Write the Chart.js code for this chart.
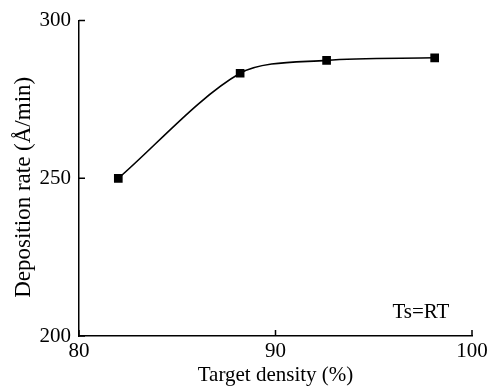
<!DOCTYPE html>
<html>
<head>
<meta charset="utf-8">
<script src="https://cdn.jsdelivr.net/npm/chart.js@4/dist/chart.umd.min.js"></script>
<style>
html,body{margin:0;padding:0;background:#fff;}
#wrap{width:492px;height:388px;}
</style>
</head>
<body>
<div id="wrap"><canvas id="c" width="492" height="388"></canvas></div>
<script>
const targetDensity = [82.0, 88.2, 92.6, 98.1];
const depositionRate = [250.0, 283.3, 287.4, 288.2];
const xTicks = [80, 90, 100];
const yTicks = [200, 250, 300];
const xTitle = 'Target density (%)';
const yTitle = 'Deposition rate (Å/min)';
const noteText = 'Ts=RT';
const notePos = {x: 97.4, y: 207.3};

const FONT = '"Liberation Serif", "Times New Roman", serif';

const extras = {
  id: 'extras',
  afterDraw(chart) {
    const ctx = chart.ctx;
    const xs = chart.scales.x, ys = chart.scales.y;
    const len = 6;
    ctx.save();
    ctx.strokeStyle = '#000';
    ctx.lineWidth = 1.5;
    ctx.beginPath();
    xTicks.forEach(v => {
      const px = xs.getPixelForValue(v);
      ctx.moveTo(px, ys.bottom);
      ctx.lineTo(px, ys.bottom - len);
    });
    yTicks.forEach(v => {
      const py = ys.getPixelForValue(v);
      ctx.moveTo(xs.left, py);
      ctx.lineTo(xs.left + len, py);
    });
    ctx.stroke();
    ctx.fillStyle = '#000';
    ctx.font = '21px ' + FONT;
    ctx.textAlign = 'center';
    ctx.textBaseline = 'middle';
    ctx.fillText(noteText, xs.getPixelForValue(notePos.x), ys.getPixelForValue(notePos.y));
    // y-axis title, rotated
    ctx.font = '23px ' + FONT;
    ctx.translate(24, (ys.top + ys.bottom) / 2 + 9);
    ctx.rotate(-Math.PI / 2);
    ctx.fillText(yTitle, 0, 0);
    ctx.restore();
  }
};

new Chart(document.getElementById('c'), {
  type: 'line',
  data: {
    datasets: [{
      data: targetDensity.map((x, i) => ({x: x, y: depositionRate[i]})),
      borderColor: '#000',
      backgroundColor: '#000',
      borderWidth: 1.6,
      pointStyle: 'rect',
      pointRadius: 5,
      pointHoverRadius: 5,
      tension: 0.3,
      fill: false
    }]
  },
  options: {
    responsive: false,
    animation: false,
    events: [],
    layout: {padding: {top: 19, right: 20, left: 0, bottom: 0}},
    plugins: {legend: {display: false}, tooltip: {enabled: false}},
    scales: {
      x: {
        type: 'linear',
        min: 80, max: 100,
        afterBuildTicks: s => { s.ticks = xTicks.map(v => ({value: v})); },
        afterFit: s => { s.height = 52; },
        grid: {display: false, drawTicks: false, tickLength: 0},
        border: {display: true, color: '#000', width: 1.5},
        ticks: {color: '#000', font: {family: FONT, size: 21}, padding: 3, maxRotation: 0},
        title: {display: true, text: xTitle, color: '#000', font: {family: FONT, size: 21}, padding: 0}
      },
      y: {
        type: 'linear',
        min: 200, max: 300,
        afterBuildTicks: s => { s.ticks = yTicks.map(v => ({value: v})); },
        afterFit: s => { s.width = 79; },
        grid: {display: false, drawTicks: false, tickLength: 0},
        border: {display: true, color: '#000', width: 1.5},
        ticks: {color: '#000', font: {family: FONT, size: 21}, padding: 8},
        title: {display: false}
      }
    }
  },
  plugins: [extras]
});
</script>
</body>
</html>
